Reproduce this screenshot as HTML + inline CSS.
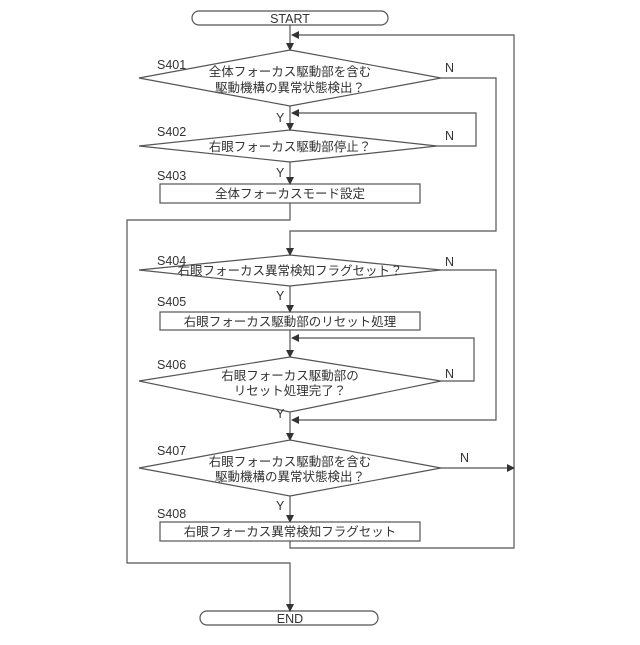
<!DOCTYPE html>
<html><head><meta charset="utf-8"><style>
body{margin:0;background:#fff}
svg text{font-family:"Liberation Sans","Noto Sans CJK JP",sans-serif;fill:#333}
</style></head><body>
<svg width="640" height="640" viewBox="0 0 640 640" xmlns="http://www.w3.org/2000/svg">
<defs><marker id="a" markerWidth="8" markerHeight="8" refX="7" refY="4" orient="auto" markerUnits="userSpaceOnUse"><path d="M0,0 L8,4 L0,8 z" fill="#333"/></marker></defs>
<g fill="none" stroke="#555" stroke-width="1.2">
<rect x="192" y="11" width="196" height="14" rx="7"/>
<rect x="200" y="611" width="178" height="14" rx="7"/>
<path d="M290,25 V50" marker-end="url(#a)"/>
<path d="M514,468 V548 H290 V541"/>
<path d="M514,468 V35 H292" marker-end="url(#a)"/>
<polygon points="290,50 441,78 290,106 139,78"/>
<path d="M441,78 H496 V231 H290 V255" marker-end="url(#a)"/>
<path d="M290,106 V130" marker-end="url(#a)"/>
<polygon points="290,130 437,146 290,162 139,146"/>
<path d="M437,146 H476 V113 H292" marker-end="url(#a)"/>
<path d="M290,162 V184" marker-end="url(#a)"/>
<rect x="160" y="184" width="260" height="19"/>
<path d="M290,203 V220 H127 V563 H290 V611" marker-end="url(#a)"/>
<polygon points="290,255 441,270 290,286 139,270"/>
<path d="M441,270 H496 V420 H292" marker-end="url(#a)"/>
<path d="M290,286 V312" marker-end="url(#a)"/>
<rect x="160" y="312" width="260" height="18"/>
<path d="M290,330 V357" marker-end="url(#a)"/>
<path d="M441,381 H474 V338 H292" marker-end="url(#a)"/>
<polygon points="290,357 441,381 290,412 139,381"/>
<path d="M290,412 V440" marker-end="url(#a)"/>
<polygon points="290,440 441,468 290,496 139,468"/>
<path d="M441,468 H514" marker-end="url(#a)"/>
<path d="M290,496 V522" marker-end="url(#a)"/>
<rect x="160" y="522" width="260" height="19"/>
</g>
<g font-size="12.5">
<text x="290" y="23" text-anchor="middle">START</text>
<text x="290" y="623" text-anchor="middle">END</text>
<text x="157" y="69">S401</text>
<text x="290" y="76" text-anchor="middle">全体フォーカス駆動部を含む</text>
<text x="290" y="92" text-anchor="middle">駆動機構の異常状態検出？</text>
<text x="445" y="72">N</text>
<text x="276" y="122">Y</text>
<text x="157" y="136">S402</text>
<text x="290" y="151" text-anchor="middle">右眼フォーカス駆動部停止？</text>
<text x="445" y="140">N</text>
<text x="276" y="177">Y</text>
<text x="157" y="180">S403</text>
<text x="290" y="198" text-anchor="middle">全体フォーカスモード設定</text>
<text x="157" y="265">S404</text>
<text x="290" y="275" text-anchor="middle">右眼フォーカス異常検知フラグセット？</text>
<text x="445" y="266">N</text>
<text x="276" y="300">Y</text>
<text x="157" y="306">S405</text>
<text x="290" y="326" text-anchor="middle">右眼フォーカス駆動部のリセット処理</text>
<text x="157" y="369">S406</text>
<text x="290" y="380" text-anchor="middle">右眼フォーカス駆動部の</text>
<text x="290" y="395" text-anchor="middle">リセット処理完了？</text>
<text x="445" y="378">N</text>
<text x="276" y="418">Y</text>
<text x="157" y="455">S407</text>
<text x="290" y="466" text-anchor="middle">右眼フォーカス駆動部を含む</text>
<text x="290" y="481" text-anchor="middle">駆動機構の異常状態検出？</text>
<text x="460" y="462">N</text>
<text x="276" y="510">Y</text>
<text x="157" y="518">S408</text>
<text x="290" y="536" text-anchor="middle">右眼フォーカス異常検知フラグセット</text>
</g>
</svg>
</body></html>
